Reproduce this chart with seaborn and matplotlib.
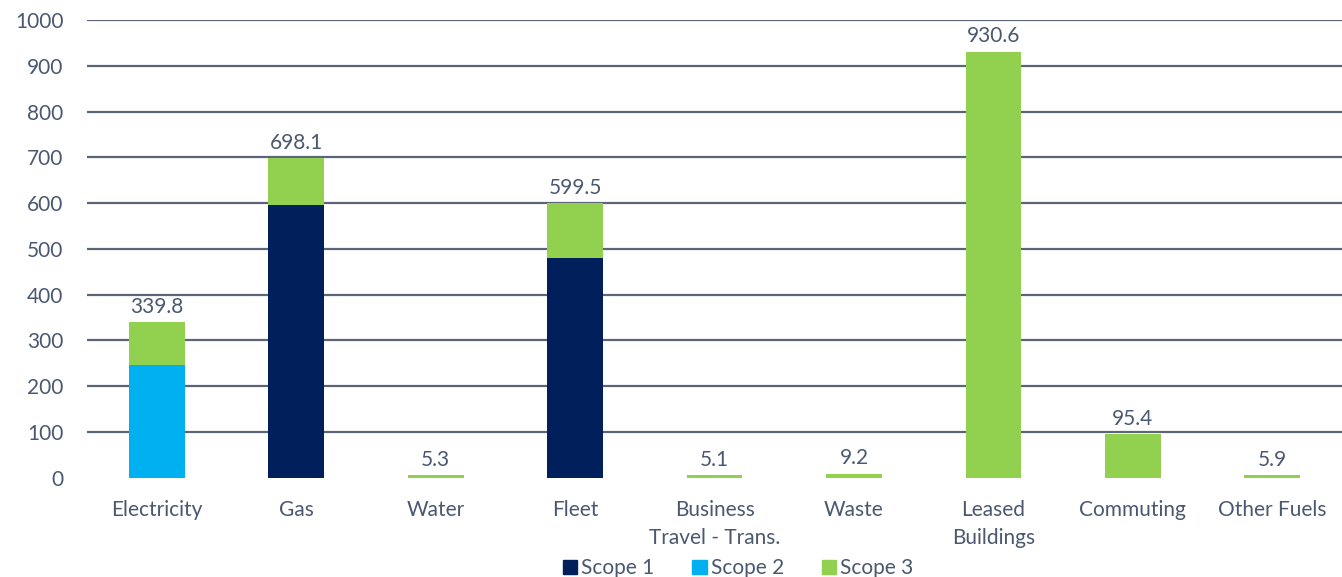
import pandas as pd
import seaborn as sns
import matplotlib.pyplot as plt
import matplotlib
from matplotlib.patches import Patch

matplotlib.use('Agg')

categories = ['Electricity', 'Gas', 'Water', 'Fleet', 'Business\nTravel - Trans.',
              'Waste', 'Leased\nBuildings', 'Commuting', 'Other Fuels']
scope1 = [0, 596.0, 0, 481.0, 0, 0, 0, 0, 0]
scope2 = [247.0, 0, 0, 0, 0, 0, 0, 0, 0]
scope3 = [92.8, 102.1, 5.3, 118.5, 5.1, 9.2, 930.6, 95.4, 5.9]
totals = [339.8, 698.1, 5.3, 599.5, 5.1, 9.2, 930.6, 95.4, 5.9]

c1, c2, c3 = '#001F5B', '#00B0F0', '#92D050'
text_col = '#4A5870'
grid_col = '#5B6577'

sns.set_theme(style='white')
plt.rcParams['font.family'] = ['Lato', 'DejaVu Sans']

df = pd.DataFrame({'cat': categories, 's1': scope1, 's2': scope2, 's3': scope3, 'total': totals})
df['s12'] = df['s1'] + df['s2']
df['s123'] = df['s12'] + df['s3']

fig = plt.figure(figsize=(13.42, 5.77), dpi=100)
ax = fig.add_axes([0.065, 0.172, 0.935, 0.793])

ax.set_ylim(0, 1000)
ax.set_yticks(range(0, 1001, 100))
for y in range(100, 1001, 100):
    ax.axhline(y, color=grid_col, lw=1.6, zorder=0)

# stacked look: draw cumulative heights from tallest to shortest
for col, c, z in [('s123', c3, 2), ('s12', c2, 3), ('s1', c1, 4)]:
    sns.barplot(data=df, x='cat', y=col, color=c, width=0.4, saturation=1,
                linewidth=0, ax=ax, zorder=z)

for i, t in enumerate(df['total']):
    ax.text(i, t + 12, f'{t:.1f}', ha='center', va='bottom', fontsize=15, color=text_col)

ax.set_xlabel('')
ax.set_ylabel('')
ax.set_xlim(-0.5, len(categories) - 0.5)
for s in ax.spines.values():
    s.set_visible(False)
ax.tick_params(axis='both', length=0, labelsize=15, labelcolor=text_col)
ax.tick_params(axis='y', pad=17)
ax.tick_params(axis='x', pad=16)
for lab in ax.get_xticklabels():
    lab.set_linespacing(1.5)

handles = [Patch(color=c1, label='Scope 1'), Patch(color=c2, label='Scope 2'),
           Patch(color=c3, label='Scope 3')]
fig.legend(handles=handles, loc='lower center', bbox_to_anchor=(0.55, -0.035), ncol=3,
           frameon=False, fontsize=15, handlelength=0.7, handleheight=0.7,
           handletextpad=0.2, columnspacing=1.8, labelcolor=text_col)

fig.savefig('out.png', dpi=100)
